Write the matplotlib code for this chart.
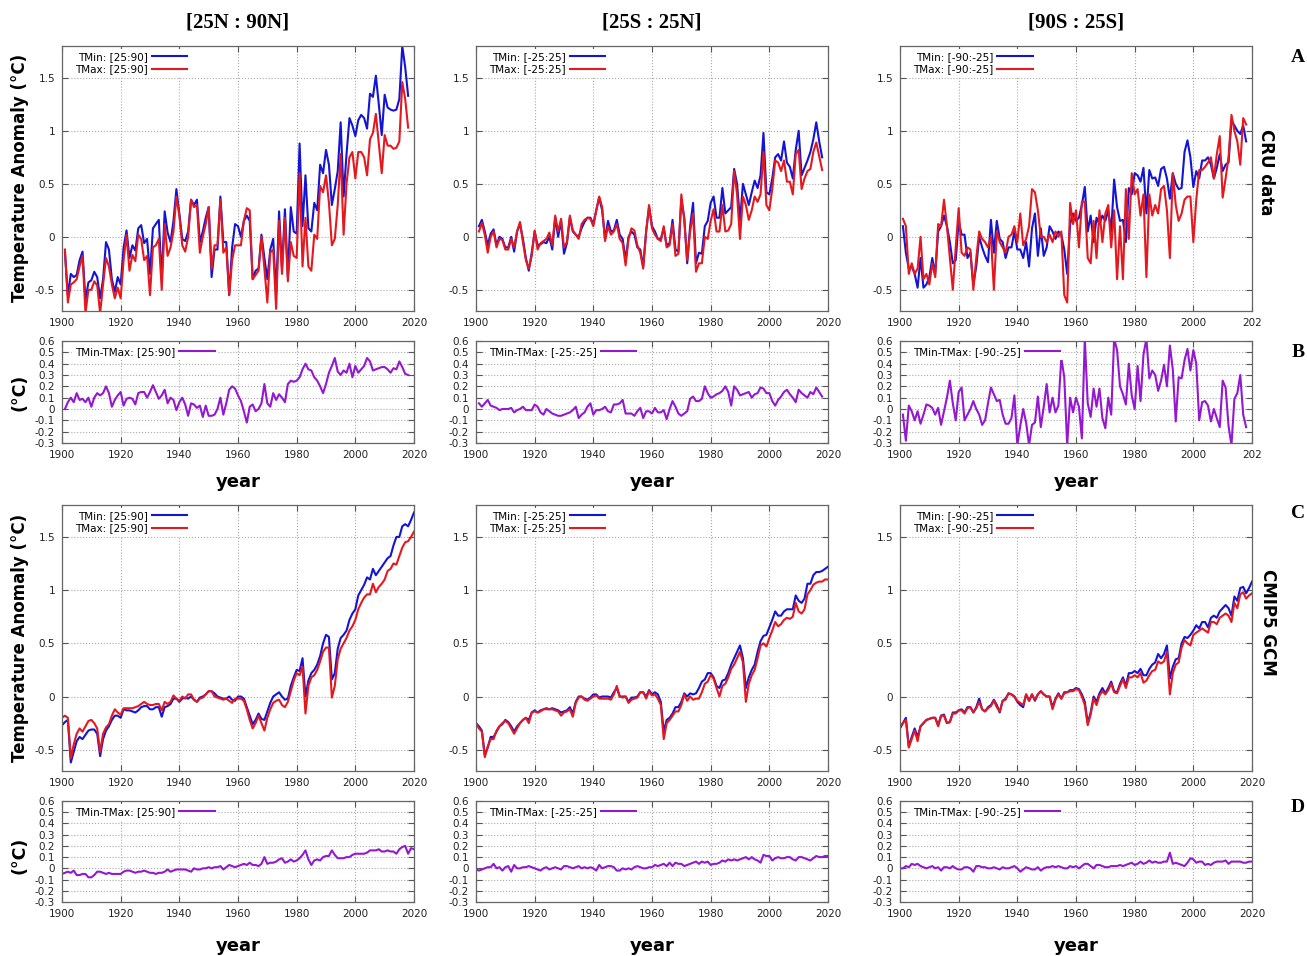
import numpy as np
import matplotlib.pyplot as plt
from matplotlib.ticker import FuncFormatter

# CRU data, 1901-2018
cru_nh_tmin = [-0.15, -0.55, -0.35, -0.38, -0.36, -0.22, -0.14, -0.60, -0.43, -0.41,
               -0.33, -0.38, -0.58, -0.40, -0.05, -0.12, -0.40, -0.52, -0.38, -0.45,
               -0.10, 0.06, -0.20, -0.08, -0.13, 0.08, 0.11, -0.06, -0.02, -0.35,
               0.08, 0.12, 0.16, -0.40, 0.24, 0.04, -0.05, 0.15, 0.45, 0.22,
               -0.02, -0.04, 0.05, 0.35, 0.30, 0.35, -0.05, 0.05, 0.18, 0.28,
               -0.38, -0.12, -0.12, 0.38, -0.05, -0.05, -0.55, -0.10, 0.12, 0.10,
               0.00, 0.15, 0.20, 0.15, -0.40, -0.32, -0.30, 0.02, -0.20, -0.40,
               -0.12, -0.02, -0.55, 0.24, -0.30, 0.26, -0.38, 0.28, 0.05, 0.03,
               0.88, 0.10, 0.58, 0.08, 0.05, 0.32, 0.25, 0.68, 0.60, 0.82,
               0.68, 0.30, 0.45, 0.62, 1.08, 0.38, 0.78, 1.12, 1.05, 0.95,
               1.10, 1.15, 1.12, 1.02, 1.35, 1.32, 1.52, 1.25, 0.96, 1.34,
               1.22, 1.20, 1.19, 1.20, 1.30, 1.80, 1.60, 1.33]
cru_nh_tmax = [-0.12, -0.62, -0.45, -0.43, -0.40, -0.28, -0.18, -0.72, -0.50, -0.50,
               -0.42, -0.46, -0.72, -0.45, -0.20, -0.28, -0.45, -0.58, -0.48, -0.58,
               -0.22, 0.02, -0.32, -0.17, -0.23, 0.02, -0.02, -0.22, -0.18, -0.55,
               -0.10, -0.08, -0.02, -0.50, 0.12, -0.18, -0.10, 0.05, 0.38, 0.20,
               -0.08, -0.14, 0.00, 0.35, 0.28, 0.30, -0.15, 0.00, 0.12, 0.28,
               -0.30, -0.08, -0.08, 0.35, -0.15, -0.10, -0.55, -0.22, -0.08, -0.08,
               -0.08, 0.15, 0.27, 0.25, -0.40, -0.36, -0.32, 0.00, -0.30, -0.62,
               -0.15, -0.12, -0.68, 0.15, -0.35, 0.18, -0.42, -0.05, -0.18, -0.20,
               0.60, -0.28, 0.18, -0.28, -0.32, 0.02, -0.02, 0.48, 0.42, 0.58,
               0.32, -0.08, -0.02, 0.30, 0.78, 0.02, 0.50, 0.75, 0.80, 0.55,
               0.80, 0.80, 0.75, 0.58, 0.92, 0.98, 1.16, 0.88, 0.60, 0.96,
               0.86, 0.86, 0.83, 0.84, 0.90, 1.46, 1.30, 1.03]
cru_tr_tmin = [0.10, 0.16, 0.05, -0.08, 0.03, 0.07, -0.08, 0.00, -0.02, -0.10,
               -0.10, 0.00, -0.14, 0.05, 0.12, -0.02, -0.20, -0.32, -0.15, 0.05,
               -0.08, -0.07, -0.05, -0.06, 0.00, -0.12, 0.18, 0.00, 0.15, -0.16,
               -0.06, 0.18, 0.05, 0.02, 0.00, 0.08, 0.14, 0.18, 0.18, 0.12,
               0.25, 0.37, 0.25, -0.02, 0.15, 0.05, 0.06, 0.16, 0.02, -0.02,
               -0.22, 0.00, 0.05, 0.02, -0.10, -0.12, -0.28, 0.05, 0.28, 0.10,
               0.05, -0.02, -0.02, 0.08, -0.08, -0.06, 0.16, -0.12, -0.14, 0.35,
               0.18, -0.25, 0.10, 0.32, -0.25, -0.15, -0.16, 0.10, 0.15, 0.32,
               0.38, 0.18, 0.18, 0.46, 0.22, 0.25, 0.28, 0.64, 0.50, 0.15,
               0.50, 0.40, 0.30, 0.42, 0.53, 0.46, 0.58, 0.98, 0.42, 0.40,
               0.55, 0.75, 0.78, 0.72, 0.90, 0.70, 0.66, 0.55, 0.82, 1.00,
               0.58, 0.65, 0.72, 0.80, 0.92, 1.08, 0.90, 0.75]
cru_tr_tmax = [0.05, 0.13, 0.02, -0.15, 0.00, 0.05, -0.10, -0.02, -0.03, -0.12,
               -0.12, -0.02, -0.10, 0.05, 0.14, -0.05, -0.22, -0.30, -0.18, 0.06,
               -0.12, -0.06, -0.04, -0.02, 0.04, -0.08, 0.20, 0.05, 0.17, -0.10,
               -0.05, 0.20, 0.06, 0.02, -0.02, 0.12, 0.16, 0.18, 0.17, 0.10,
               0.25, 0.38, 0.28, -0.04, 0.10, 0.02, 0.05, 0.12, -0.02, -0.06,
               -0.27, -0.02, 0.08, 0.06, -0.08, -0.15, -0.30, 0.05, 0.30, 0.08,
               0.02, -0.02, -0.04, 0.10, -0.10, -0.08, 0.12, -0.18, -0.16, 0.40,
               0.16, -0.22, 0.05, 0.22, -0.33, -0.25, -0.25, 0.00, -0.02, 0.15,
               0.26, 0.05, 0.05, 0.30, 0.05, 0.06, 0.12, 0.62, 0.40, -0.02,
               0.38, 0.30, 0.16, 0.25, 0.38, 0.33, 0.40, 0.80, 0.30, 0.25,
               0.45, 0.72, 0.70, 0.62, 0.72, 0.52, 0.52, 0.40, 0.78, 0.82,
               0.45, 0.55, 0.62, 0.64, 0.80, 0.89, 0.76, 0.63]
cru_sh_tmin = [0.10, -0.15, -0.30, -0.28, -0.35, -0.48, -0.20, -0.48, -0.45, -0.38,
               -0.20, -0.35, 0.05, 0.10, 0.20, 0.10, -0.05, -0.25, -0.22, 0.15,
               0.02, 0.02, -0.20, -0.15, -0.45, -0.28, 0.00, -0.10, -0.18, -0.24,
               0.16, -0.15, 0.15, -0.02, -0.05, -0.20, -0.10, -0.10, 0.05, -0.12,
               -0.12, -0.20, -0.05, -0.28, 0.08, 0.22, -0.18, 0.08, -0.18, -0.10,
               0.10, 0.05, -0.02, 0.05, 0.02, -0.12, -0.35, 0.12, 0.22, 0.15,
               0.18, 0.30, 0.47, 0.05, 0.20, -0.05, 0.18, 0.12, 0.20, 0.15,
               0.25, 0.05, 0.54, 0.28, 0.15, 0.16, -0.05, 0.46, 0.40, 0.60,
               0.58, 0.52, 0.65, 0.22, 0.63, 0.55, 0.56, 0.48, 0.64, 0.66,
               0.55, 0.36, 0.60, 0.50, 0.45, 0.46, 0.80, 0.91, 0.75, 0.47,
               0.62, 0.55, 0.72, 0.72, 0.75, 0.68, 0.55, 0.65, 0.78, 0.62,
               0.68, 0.70, 1.10, 1.05, 1.00, 0.97, 1.05, 0.90]
cru_sh_tmax = [0.17, 0.10, -0.35, -0.25, -0.35, -0.30, 0.00, -0.40, -0.35, -0.45,
               -0.25, -0.38, 0.12, 0.10, 0.35, 0.10, -0.20, -0.50, -0.10, 0.27,
               -0.15, -0.18, -0.10, -0.12, -0.50, -0.20, 0.05, -0.02, -0.05, -0.10,
               0.00, -0.50, 0.05, -0.05, -0.10, -0.15, 0.00, 0.02, 0.10, -0.05,
               0.22, -0.08, -0.02, 0.10, 0.45, 0.42, 0.25, 0.00, 0.00, -0.05,
               0.02, -0.05, 0.05, 0.00, 0.05, -0.55, -0.62, 0.32, 0.12, 0.25,
               -0.10, 0.33, 0.33, -0.20, -0.25, 0.15, -0.20, 0.25, -0.05, 0.22,
               0.30, -0.10, 0.25, -0.40, 0.10, -0.40, 0.45, -0.02, 0.60, 0.40,
               0.45, 0.20, 0.40, -0.38, 0.40, 0.20, 0.30, 0.22, 0.45, 0.48,
               0.25, -0.20, 0.60, 0.30, 0.15, 0.22, 0.35, 0.38, 0.38, -0.05,
               0.35, 0.63, 0.63, 0.66, 0.70, 0.75, 0.55, 0.78, 0.95, 0.37,
               0.55, 0.75, 1.15, 1.00, 0.90, 0.68, 1.12, 1.06]
cru_nh_diff = [0.00, 0.06, 0.10, 0.06, 0.14, 0.08, 0.09, 0.06, 0.10, 0.02,
               0.10, 0.14, 0.12, 0.14, 0.20, 0.14, 0.02, 0.08, 0.12, 0.15,
               0.03, 0.09, 0.10, 0.09, 0.04, 0.14, 0.15, 0.15, 0.10, 0.15,
               0.21, 0.15, 0.09, 0.12, 0.17, 0.05, 0.10, 0.08, -0.01, 0.06,
               0.10, 0.04, -0.06, 0.05, 0.04, 0.01, 0.03, -0.07, 0.03, -0.06,
               -0.06, -0.05, 0.00, 0.10, -0.05, 0.05, 0.17, 0.20, 0.18, 0.12,
               0.07, -0.02, -0.12, 0.02, 0.04, -0.02, 0.00, 0.05, 0.22, 0.05,
               0.02, 0.14, 0.08, 0.13, 0.10, 0.06, 0.22, 0.25, 0.24, 0.25,
               0.28, 0.35, 0.40, 0.35, 0.34, 0.28, 0.25, 0.20, 0.14, 0.22,
               0.32, 0.38, 0.45, 0.33, 0.30, 0.34, 0.32, 0.40, 0.28, 0.38,
               0.32, 0.35, 0.38, 0.45, 0.42, 0.34, 0.35, 0.36, 0.37, 0.37,
               0.35, 0.32, 0.36, 0.35, 0.42, 0.37, 0.31, 0.30]
cru_tr_diff = [0.05, 0.02, 0.05, 0.08, 0.03, 0.02, 0.01, -0.01, 0.00, 0.00,
               0.00, 0.01, -0.03, -0.01, 0.00, 0.02, -0.01, -0.01, -0.01, 0.04,
               0.02, -0.03, -0.05, 0.00, -0.02, -0.04, -0.05, -0.06, -0.06, -0.05,
               -0.04, -0.03, -0.01, 0.02, -0.08, -0.05, -0.03, 0.02, 0.05, -0.05,
               -0.01, -0.01, 0.00, 0.02, -0.02, -0.03, 0.04, 0.04, 0.05, 0.08,
               -0.04, -0.04, -0.04, -0.06, -0.02, 0.01, -0.08, -0.02, -0.02, -0.04,
               0.01, -0.03, -0.03, -0.01, -0.09, 0.00, 0.07, 0.02, -0.04, -0.06,
               -0.04, -0.02, 0.09, 0.11, 0.07, 0.07, 0.09, 0.20, 0.14, 0.10,
               0.11, 0.13, 0.14, 0.16, 0.20, 0.15, 0.03, 0.20, 0.17, 0.12,
               0.13, 0.14, 0.15, 0.10, 0.13, 0.14, 0.19, 0.18, 0.14, 0.14,
               0.07, 0.03, 0.08, 0.11, 0.15, 0.17, 0.13, 0.10, 0.06, 0.17,
               0.14, 0.12, 0.10, 0.15, 0.13, 0.19, 0.15, 0.11]
cru_sh_diff = [-0.05, -0.28, 0.03, -0.02, -0.10, -0.02, -0.13, -0.05, 0.04, 0.03,
               0.01, -0.05, 0.01, -0.14, -0.02, 0.10, 0.25, 0.05, -0.10, 0.15,
               0.19, -0.10, -0.05, 0.00, 0.07, 0.00, -0.05, -0.14, -0.10, 0.05,
               0.19, 0.13, 0.07, 0.08, -0.05, -0.13, -0.13, -0.08, 0.12, -0.32,
               -0.15, 0.00, -0.12, -0.32, -0.14, -0.12, 0.11, -0.16, 0.02, 0.22,
               -0.03, 0.10, -0.03, 0.03, 0.45, 0.28, -0.32, 0.10, -0.03, 0.10,
               0.02, -0.26, 0.62, 0.05, -0.07, 0.18, 0.02, 0.18, -0.08, -0.17,
               0.10, -0.05, 0.62, 0.52, 0.20, 0.13, 0.04, 0.40, 0.12, 0.00,
               0.38, 0.07, 0.48, 0.62, 0.27, 0.34, 0.30, 0.16, 0.25, 0.39,
               0.20, 0.56, 0.35, -0.11, 0.28, 0.27, 0.43, 0.53, 0.34, 0.52,
               0.40, -0.10, 0.06, 0.07, 0.03, -0.11, 0.00, -0.08, -0.16, 0.25,
               0.19, -0.15, -0.32, 0.09, 0.14, 0.30, -0.05, -0.16]

# CMIP5 GCM, 1900-2020
gcm_nh_tmin = [-0.27, -0.24, -0.22, -0.62, -0.52, -0.42, -0.38, -0.40, -0.36, -0.32, -0.31,
               -0.31, -0.35, -0.56, -0.40, -0.32, -0.28, -0.22, -0.18, -0.18, -0.20,
               -0.12, -0.13, -0.13, -0.14, -0.15, -0.13, -0.10, -0.09, -0.09, -0.12,
               -0.12, -0.10, -0.10, -0.19, -0.10, -0.09, -0.07, -0.02, -0.02, -0.05,
               -0.02, -0.01, -0.02, 0.00, -0.03, -0.05, -0.01, 0.00, 0.02, 0.05,
               0.05, 0.03, 0.00, -0.01, -0.02, -0.02, 0.00, -0.03, -0.04, 0.00,
               0.00, -0.02, -0.10, -0.18, -0.26, -0.22, -0.16, -0.21, -0.22, -0.14,
               -0.06, 0.00, 0.02, 0.04, 0.00, -0.03, -0.02, 0.10, 0.18, 0.25,
               0.24, 0.36, 0.00, 0.15, 0.22, 0.25, 0.30, 0.38, 0.50, 0.58,
               0.56, 0.16, 0.22, 0.45, 0.55, 0.58, 0.62, 0.72, 0.78, 0.82,
               0.95, 1.00, 1.05, 1.12, 1.10, 1.20, 1.14, 1.18, 1.22, 1.26,
               1.30, 1.32, 1.42, 1.50, 1.50, 1.60, 1.62, 1.60, 1.66, 1.73]
gcm_nh_tmax = [-0.20, -0.18, -0.20, -0.58, -0.45, -0.35, -0.30, -0.33, -0.28, -0.23, -0.22,
               -0.25, -0.30, -0.52, -0.35, -0.29, -0.26, -0.18, -0.12, -0.15, -0.17,
               -0.11, -0.11, -0.11, -0.11, -0.10, -0.09, -0.07, -0.05, -0.07, -0.08,
               -0.08, -0.07, -0.07, -0.13, -0.05, -0.07, -0.05, 0.01, -0.02, -0.04,
               0.00, -0.02, 0.02, 0.02, -0.03, -0.05, -0.02, -0.01, 0.02, 0.05,
               0.05, 0.00, -0.01, -0.02, -0.03, -0.02, -0.04, -0.06, -0.02, -0.02,
               -0.02, -0.04, -0.12, -0.22, -0.30, -0.25, -0.18, -0.25, -0.32, -0.20,
               -0.12, -0.06, -0.04, -0.03, -0.08, -0.10, -0.05, 0.05, 0.15, 0.22,
               0.20, 0.28, -0.16, 0.10, 0.18, 0.20, 0.25, 0.33, 0.42, 0.46,
               0.46, -0.01, 0.10, 0.35, 0.45, 0.50, 0.55, 0.62, 0.66, 0.72,
               0.82, 0.88, 0.93, 0.96, 0.96, 1.06, 0.98, 1.03, 1.06, 1.10,
               1.18, 1.20, 1.25, 1.24, 1.32, 1.40, 1.45, 1.46, 1.50, 1.55]
gcm_tr_tmin = [-0.25, -0.28, -0.32, -0.55, -0.48, -0.38, -0.38, -0.33, -0.28, -0.26, -0.22,
               -0.24, -0.28, -0.33, -0.28, -0.25, -0.22, -0.20, -0.22, -0.15, -0.13,
               -0.15, -0.13, -0.12, -0.11, -0.12, -0.11, -0.12, -0.13, -0.15, -0.14,
               -0.13, -0.10, -0.16, -0.05, 0.00, 0.00, -0.02, -0.03, -0.01, 0.02,
               0.02, -0.01, 0.00, 0.00, 0.00, -0.01, 0.04, 0.08, 0.00, 0.00,
               0.00, -0.05, -0.01, -0.01, 0.00, 0.04, 0.04, 0.00, 0.06, 0.02,
               0.04, 0.02, -0.05, -0.33, -0.22, -0.20, -0.16, -0.10, -0.10, -0.05,
               0.03, 0.00, 0.03, 0.02, 0.03, 0.08, 0.14, 0.16, 0.22, 0.22,
               0.18, 0.10, 0.08, 0.15, 0.16, 0.22, 0.30, 0.36, 0.42, 0.48,
               0.36, 0.08, 0.18, 0.25, 0.30, 0.42, 0.52, 0.57, 0.58, 0.65,
               0.72, 0.80, 0.76, 0.76, 0.80, 0.82, 0.82, 0.82, 0.95, 0.90,
               0.88, 0.92, 1.06, 1.06, 1.14, 1.17, 1.17, 1.18, 1.20, 1.22]
gcm_tr_tmax = [-0.25, -0.30, -0.33, -0.57, -0.47, -0.40, -0.40, -0.32, -0.28, -0.25, -0.23,
               -0.25, -0.30, -0.35, -0.30, -0.25, -0.22, -0.20, -0.25, -0.15, -0.14,
               -0.15, -0.14, -0.12, -0.12, -0.12, -0.12, -0.13, -0.14, -0.18, -0.15,
               -0.14, -0.12, -0.19, -0.06, -0.01, 0.00, -0.03, -0.04, -0.02, 0.00,
               0.01, -0.02, -0.02, -0.02, -0.02, -0.03, 0.02, 0.10, 0.00, -0.01,
               0.00, -0.06, -0.03, -0.02, -0.01, 0.04, 0.04, -0.02, 0.05, 0.01,
               0.02, -0.02, -0.08, -0.40, -0.25, -0.22, -0.18, -0.14, -0.14, -0.08,
               0.02, -0.04, 0.00, -0.03, -0.02, -0.02, 0.04, 0.12, 0.14, 0.20,
               0.17, 0.08, 0.00, 0.10, 0.12, 0.18, 0.26, 0.30, 0.36, 0.42,
               0.32, -0.05, 0.12, 0.20, 0.25, 0.36, 0.48, 0.50, 0.47, 0.55,
               0.62, 0.70, 0.66, 0.68, 0.72, 0.74, 0.73, 0.75, 0.88, 0.80,
               0.78, 0.82, 0.96, 1.00, 1.05, 1.07, 1.08, 1.08, 1.10, 1.10]
gcm_sh_tmin = [-0.30, -0.25, -0.20, -0.47, -0.38, -0.30, -0.38, -0.28, -0.25, -0.22, -0.21,
               -0.20, -0.20, -0.27, -0.18, -0.17, -0.25, -0.24, -0.15, -0.15, -0.13,
               -0.12, -0.15, -0.10, -0.10, -0.15, -0.10, -0.02, -0.12, -0.14, -0.10,
               -0.08, -0.03, -0.08, -0.15, -0.04, -0.02, 0.03, 0.02, 0.00, -0.05,
               -0.08, -0.10, 0.02, -0.04, 0.02, -0.04, 0.02, 0.05, 0.02, 0.00,
               0.00, -0.10, -0.02, 0.03, -0.02, 0.04, 0.04, 0.06, 0.06, 0.08,
               0.07, 0.02, -0.05, -0.25, -0.15, 0.00, -0.05, 0.03, 0.08, 0.03,
               0.08, 0.14, 0.05, 0.04, 0.12, 0.18, 0.10, 0.22, 0.22, 0.24,
               0.22, 0.26, 0.20, 0.20, 0.26, 0.30, 0.32, 0.40, 0.36, 0.40,
               0.48, 0.17, 0.28, 0.35, 0.36, 0.50, 0.56, 0.55, 0.58, 0.62,
               0.67, 0.64, 0.70, 0.70, 0.65, 0.74, 0.76, 0.74, 0.80, 0.83,
               0.86, 0.83, 0.76, 0.94, 0.90, 1.02, 1.03, 0.97, 1.02, 1.08]
gcm_sh_tmax = [-0.28, -0.25, -0.22, -0.48, -0.40, -0.32, -0.42, -0.28, -0.25, -0.22, -0.21,
               -0.20, -0.20, -0.28, -0.18, -0.18, -0.25, -0.24, -0.16, -0.16, -0.13,
               -0.13, -0.16, -0.11, -0.10, -0.15, -0.11, -0.05, -0.12, -0.14, -0.11,
               -0.09, -0.04, -0.10, -0.14, -0.04, -0.03, 0.03, 0.02, 0.00, -0.04,
               -0.06, -0.08, 0.02, -0.04, 0.02, -0.03, 0.02, 0.05, 0.02, 0.00,
               0.00, -0.12, -0.03, 0.02, -0.02, 0.03, 0.04, 0.05, 0.05, 0.07,
               0.06, 0.00, -0.08, -0.27, -0.17, -0.02, -0.08, 0.01, 0.05, 0.02,
               0.06, 0.12, 0.04, 0.03, 0.10, 0.16, 0.08, 0.18, 0.18, 0.20,
               0.18, 0.22, 0.13, 0.15, 0.20, 0.24, 0.25, 0.33, 0.31, 0.33,
               0.42, 0.02, 0.22, 0.30, 0.32, 0.46, 0.53, 0.50, 0.48, 0.58,
               0.60, 0.62, 0.64, 0.62, 0.60, 0.70, 0.70, 0.68, 0.74, 0.76,
               0.78, 0.76, 0.70, 0.88, 0.83, 0.96, 0.98, 0.92, 0.95, 0.97]
gcm_nh_diff = [-0.05, -0.04, -0.03, -0.04, -0.02, -0.06, -0.06, -0.05, -0.05, -0.08, -0.08,
               -0.06, -0.03, -0.03, -0.04, -0.05, -0.04, -0.05, -0.05, -0.05, -0.05,
               -0.03, -0.02, -0.02, -0.03, -0.04, -0.03, -0.03, -0.02, -0.03, -0.04,
               -0.04, -0.05, -0.04, -0.04, -0.03, -0.01, -0.03, -0.02, -0.01, -0.01,
               -0.01, -0.01, -0.02, -0.03, 0.00, -0.01, -0.01, 0.00, 0.00, 0.01,
               0.00, 0.01, 0.01, 0.02, -0.01, 0.01, 0.03, 0.02, 0.01, 0.02,
               0.03, 0.04, 0.03, 0.05, 0.03, 0.03, 0.02, 0.04, 0.10, 0.04,
               0.05, 0.05, 0.06, 0.08, 0.09, 0.05, 0.06, 0.08, 0.06, 0.07,
               0.09, 0.12, 0.16, 0.08, 0.03, 0.07, 0.08, 0.07, 0.10, 0.11,
               0.11, 0.16, 0.12, 0.09, 0.09, 0.09, 0.10, 0.10, 0.12, 0.13,
               0.13, 0.13, 0.13, 0.14, 0.16, 0.16, 0.16, 0.17, 0.15, 0.15,
               0.16, 0.15, 0.15, 0.13, 0.17, 0.19, 0.20, 0.13, 0.18, 0.17]
gcm_tr_diff = [-0.01, -0.02, -0.01, 0.00, 0.01, 0.01, 0.04, 0.00, 0.01, -0.02, 0.01,
               0.02, -0.03, 0.03, 0.00, 0.00, 0.01, 0.01, 0.02, 0.01, 0.00,
               -0.01, -0.02, 0.00, 0.01, -0.01, 0.00, 0.01, 0.00, -0.01, 0.02,
               0.02, 0.01, 0.00, 0.01, 0.02, 0.00, 0.01, 0.00, 0.01, 0.00,
               -0.02, 0.03, 0.00, 0.01, 0.02, 0.02, 0.01, -0.02, -0.02, 0.00,
               -0.01, 0.00, -0.01, 0.01, 0.02, 0.01, 0.00, 0.00, 0.01, 0.01,
               0.03, 0.02, 0.03, 0.04, 0.02, 0.05, 0.02, 0.05, 0.04, 0.04,
               0.02, 0.03, 0.04, 0.05, 0.06, 0.04, 0.06, 0.05, 0.06, 0.03,
               0.04, 0.04, 0.05, 0.07, 0.06, 0.08, 0.07, 0.08, 0.07, 0.08,
               0.09, 0.10, 0.08, 0.10, 0.08, 0.07, 0.05, 0.12, 0.11, 0.11,
               0.07, 0.09, 0.10, 0.09, 0.09, 0.10, 0.10, 0.08, 0.07, 0.10,
               0.10, 0.09, 0.08, 0.07, 0.09, 0.11, 0.10, 0.10, 0.11, 0.11]
gcm_sh_diff = [0.00, 0.00, 0.02, 0.01, 0.04, 0.03, 0.04, 0.02, 0.01, 0.00, 0.01,
               0.02, 0.00, 0.01, -0.02, 0.01, 0.01, 0.00, 0.02, 0.00, -0.01,
               -0.01, 0.01, 0.01, 0.00, -0.03, 0.02, 0.02, 0.01, 0.01, 0.00,
               0.00, 0.01, 0.00, -0.01, 0.01, 0.00, 0.00, 0.01, 0.02, 0.00,
               -0.03, -0.01, 0.01, 0.00, -0.01, -0.01, 0.01, -0.02, 0.00, 0.01,
               0.01, 0.02, 0.01, 0.02, 0.01, 0.00, 0.00, 0.02, 0.01, 0.02,
               0.00, 0.02, 0.04, 0.04, 0.02, 0.00, 0.03, 0.03, 0.02, 0.01,
               0.01, 0.02, 0.02, 0.02, 0.03, 0.02, 0.03, 0.04, 0.05, 0.03,
               0.04, 0.06, 0.04, 0.05, 0.07, 0.05, 0.06, 0.05, 0.05, 0.06,
               0.06, 0.14, 0.04, 0.05, 0.04, 0.03, 0.02, 0.05, 0.09, 0.08,
               0.05, 0.06, 0.06, 0.03, 0.04, 0.03, 0.05, 0.06, 0.06, 0.06,
               0.07, 0.04, 0.06, 0.06, 0.06, 0.06, 0.05, 0.05, 0.06, 0.06]

zones = ["[25:90]", "[-25:25]", "[-90:-25]"]
diff_zones = ["[25:90]", "[-25:-25]", "[-90:-25]"]
col_titles = ["[25N : 90N]", "[25S : 25N]", "[90S : 25S]"]

cru_min = [cru_nh_tmin, cru_tr_tmin, cru_sh_tmin]
cru_max = [cru_nh_tmax, cru_tr_tmax, cru_sh_tmax]
cru_diff = [cru_nh_diff, cru_tr_diff, cru_sh_diff]
gcm_min = [gcm_nh_tmin, gcm_tr_tmin, gcm_sh_tmin]
gcm_max = [gcm_nh_tmax, gcm_tr_tmax, gcm_sh_tmax]
gcm_diff = [gcm_nh_diff, gcm_tr_diff, gcm_sh_diff]

BLUE = "#1414d4"
RED = "#e4191f"
PURPLE = "#9418d0"

W, H = 1307, 956
fig = plt.figure(figsize=(W / 100, H / 100), dpi=100)


def box(left, top, width, height):
    return fig.add_axes([left / W, 1 - (top + height) / H, width / W, height / H])


def fmt(v, p):
    return "%g" % (round(v, 2) + 0.0)


def style(ax, ylim, yticks):
    ax.set_xlim(1900, 2020)
    ax.set_ylim(*ylim)
    ax.set_xticks(range(1900, 2021, 20))
    ax.set_yticks(yticks)
    ax.yaxis.set_major_formatter(FuncFormatter(fmt))
    ax.grid(True, ls=":", color="#aaaaaa", lw=0.8)
    ax.tick_params(direction="in", top=True, right=True, labelsize=7.5,
                   length=4, width=0.8, color="#555555", labelcolor="#222222", pad=5)
    for s in ax.spines.values():
        s.set_color("#666666")
        s.set_linewidth(0.9)


def legend(ax):
    leg = ax.legend(loc="upper left", bbox_to_anchor=(0.02, 1.0), markerfirst=False,
                    fontsize=7.5, handlelength=3.4, handletextpad=0.4,
                    labelspacing=0.25, borderaxespad=0.25, borderpad=0.3,
                    frameon=True, fancybox=False, framealpha=1)
    leg.get_frame().set_edgecolor("none")


def years(start, vals):
    return np.arange(start, start + len(vals))


lefts = [62, 476, 900]
width = 352
main_ticks = [-0.5, 0, 0.5, 1, 1.5]
diff_ticks = [-0.3, -0.2, -0.1, 0, 0.1, 0.2, 0.3, 0.4, 0.5, 0.6]

for i in range(3):
    # row A: CRU
    ax = box(lefts[i], 46, width, 265)
    ax.plot(years(1901, cru_min[i]), cru_min[i], color=BLUE, lw=1.5, label="TMin: " + zones[i])
    ax.plot(years(1901, cru_max[i]), cru_max[i], color=RED, lw=1.5, label="TMax: " + zones[i])
    style(ax, (-0.7, 1.8), main_ticks)
    legend(ax)
    if i == 2:
        ax.set_xticklabels(["1900", "1920", "1940", "1960", "1980", "2000", "202"])

    # row B: CRU difference
    ax = box(lefts[i], 341, width, 102)
    ax.plot(years(1901, cru_diff[i]), cru_diff[i], color=PURPLE, lw=1.5,
            label="TMin-TMax: " + diff_zones[i])
    style(ax, (-0.3, 0.6), diff_ticks)
    legend(ax)
    if i == 2:
        ax.set_xticklabels(["1900", "1920", "1940", "1960", "1980", "2000", "202"])

    # row C: CMIP5
    ax = box(lefts[i], 505, width, 266)
    ax.plot(years(1900, gcm_min[i]), gcm_min[i], color=BLUE, lw=1.5, label="TMin: " + zones[i])
    ax.plot(years(1900, gcm_max[i]), gcm_max[i], color=RED, lw=1.5, label="TMax: " + zones[i])
    style(ax, (-0.7, 1.8), main_ticks)
    legend(ax)

    # row D: CMIP5 difference
    ax = box(lefts[i], 801, width, 101)
    ax.plot(years(1900, gcm_diff[i]), gcm_diff[i], color=PURPLE, lw=1.5,
            label="TMin-TMax: " + diff_zones[i])
    style(ax, (-0.3, 0.6), diff_ticks)
    legend(ax)

    cx = (lefts[i] + width / 2) / W
    fig.text(cx, 1 - 22 / H, col_titles[i], ha="center", va="center",
             fontsize=15, fontweight="bold", family="Liberation Serif")
    fig.text(cx, 1 - 482 / H, "year", ha="center", va="center", fontsize=13, fontweight="bold")
    fig.text(cx, 1 - 946 / H, "year", ha="center", va="center", fontsize=13, fontweight="bold")

fig.text(20 / W, 1 - 178 / H, "Temperature Anomaly (°C)", rotation=90, ha="center",
         va="center", fontsize=12, fontweight="bold")
fig.text(20 / W, 1 - 638 / H, "Temperature Anomaly (°C)", rotation=90, ha="center",
         va="center", fontsize=12, fontweight="bold")
fig.text(20 / W, 1 - 392 / H, "(°C)", rotation=90, ha="center", va="center",
         fontsize=12.5, fontweight="bold")
fig.text(20 / W, 1 - 855 / H, "(°C)", rotation=90, ha="center", va="center",
         fontsize=12.5, fontweight="bold")

fig.text(1266 / W, 1 - 172 / H, "CRU data", rotation=-90, ha="center", va="center",
         fontsize=12, fontweight="bold")
fig.text(1268 / W, 1 - 622 / H, "CMIP5 GCM", rotation=-90, ha="center", va="center",
         fontsize=12, fontweight="bold")

for letter, y in zip("ABCD", [57, 352, 513, 808]):
    fig.text(1298 / W, 1 - y / H, letter, ha="center", va="center", fontsize=14,
             fontweight="bold", family="Liberation Serif")

fig.savefig("out.png", dpi=100)
